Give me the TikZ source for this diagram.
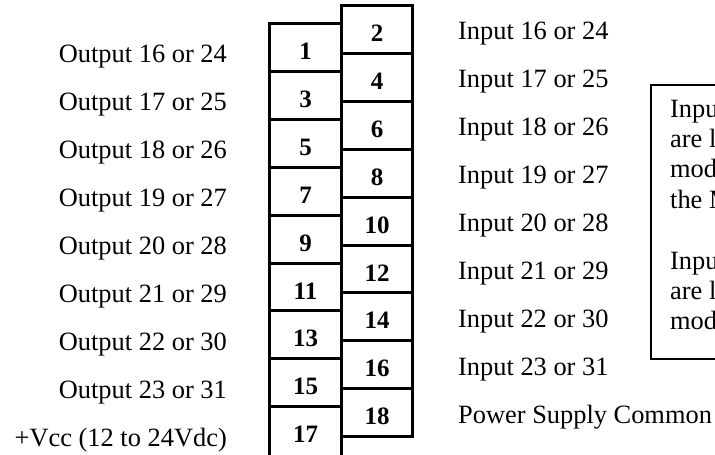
\documentclass[tikz,border=0pt]{standalone}
\usepackage{fontspec}
\setmainfont{Liberation Serif}
\begin{document}
\begin{tikzpicture}[x=1pt,y=-1pt,
  term/.style={draw, line width=3pt, minimum width=71.5pt, minimum height=47.86pt,
    inner sep=0pt, font=\fontsize{25}{25}\selectfont\bfseries, text height=24pt, text depth=0pt},
  lab/.style={inner sep=0pt, font=\fontsize{26.4}{30}\selectfont},
  infobox/.style={draw, line width=1.8pt, minimum width=90pt, minimum height=274pt, inner sep=0pt, anchor=north west}
]
\useasboundingbox (0,0) rectangle (715,455);
\clip (0,0) rectangle (715,455);
% right column of terminals
\foreach \k in {0,...,8} {
  \pgfmathtruncatemacro\n{2*\k+2}
  \node[term] (r\n) at (377.15, {29.73+47.86*\k}) {\n};
}
% left column of terminals
\foreach \k in {0,...,7} {
  \pgfmathtruncatemacro\n{2*\k+1}
  \node[term] (l\n) at (305.55, {47.73+47.86*\k}) {\n};
}
\node[term, minimum height=52pt, text height=20pt] (l17) at (305.55, 432.6) {17};
% left labels
\foreach \t [count=\k from 0] in {{Output 16 or 24},{Output 17 or 25},{Output 18 or 26},{Output 19 or 27},{Output 20 or 28},{Output 21 or 29},{Output 22 or 30},{Output 23 or 31},{+Vcc (12 to 24Vdc)}} {
  \node[lab, anchor=base east] (ol\k) at (227, {62+48*\k}) {\t};
}
% right labels
\foreach \t [count=\k from 0] in {{Input 16 or 24},{Input 17 or 25},{Input 18 or 26},{Input 19 or 27},{Input 20 or 28},{Input 21 or 29},{Input 22 or 30},{Input 23 or 31},{Power Supply Common}} {
  \node[lab, anchor=base west] (il\k) at (458, {39+48*\k}) {\t};
}
% note box (cut by the picture's right edge)
\node[infobox] (info) at (650,84) {};
\foreach \t/\k in {Inpu/0, are l/1, mod/2, the M/3, Inpu/5, are l/6, mod/7} {
  \node[lab, anchor=base west] (n\k) at (670, {117+30.4*\k}) {\t};
}
\end{tikzpicture}
\end{document}
